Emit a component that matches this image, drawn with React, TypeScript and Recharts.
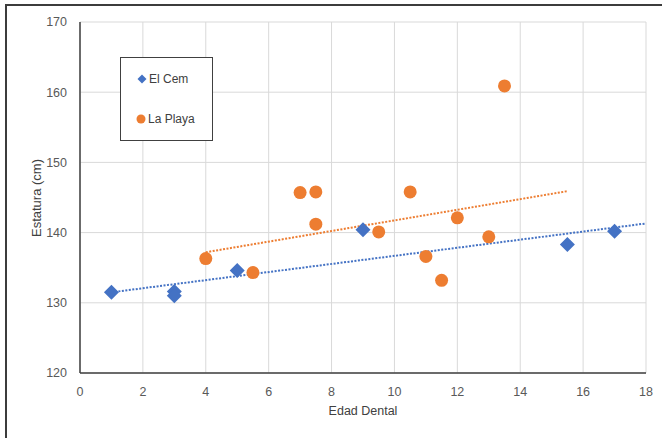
import { CartesianGrid, Scatter, ScatterChart, XAxis, YAxis } from "recharts";

const elCem = [
  { edad: 1, estatura: 131.5 },
  { edad: 3, estatura: 131.6 },
  { edad: 3, estatura: 131.0 },
  { edad: 5, estatura: 134.6 },
  { edad: 9, estatura: 140.4 },
  { edad: 15.5, estatura: 138.3 },
  { edad: 17, estatura: 140.2 },
];

const laPlaya = [
  { edad: 4, estatura: 136.3 },
  { edad: 5.5, estatura: 134.3 },
  { edad: 7, estatura: 145.7 },
  { edad: 7.5, estatura: 145.8 },
  { edad: 7.5, estatura: 141.2 },
  { edad: 9.5, estatura: 140.1 },
  { edad: 10.5, estatura: 145.8 },
  { edad: 11, estatura: 136.6 },
  { edad: 11.5, estatura: 133.2 },
  { edad: 12, estatura: 142.1 },
  { edad: 13, estatura: 139.4 },
  { edad: 13.5, estatura: 160.9 },
];

// trend line ends
const elCemTrend = [
  { edad: 1, estatura: 131.5 },
  { edad: 18, estatura: 141.3 },
];
const laPlayaTrend = [
  { edad: 4, estatura: 137.2 },
  { edad: 15.5, estatura: 145.9 },
];

const xTicks = [0, 2, 4, 6, 8, 10, 12, 14, 16, 18];
const yTicks = [120, 130, 140, 150, 160, 170];

const BLUE = "#4472C4";
const ORANGE = "#ED7D31";
const TEXT = "#595959";
const FONT = "'Liberation Sans', Arial, sans-serif";

const Diamond = (props: any) => {
  const { cx, cy } = props;
  const r = 7.5;
  return <polygon points={`${cx},${cy - r} ${cx + r},${cy} ${cx},${cy + r} ${cx - r},${cy}`} fill={BLUE} />;
};

const Dot = (props: any) => <circle cx={props.cx} cy={props.cy} r={6.5} fill={ORANGE} />;

const NoShape = () => null;

const LegendBox = () => (
  <div
    style={{
      position: "absolute",
      left: 120,
      top: 57,
      width: 91,
      height: 82,
      border: "1px solid #404040",
      background: "#fff",
      fontFamily: FONT,
      fontSize: 12,
      color: "#404040",
    }}
  >
    <div style={{ position: "absolute", left: 16, top: 14, display: "flex", alignItems: "center" }}>
      <svg width={10} height={10} style={{ marginRight: 2 }}>
        <polygon points="5,0.5 9.5,5 5,9.5 0.5,5" fill={BLUE} />
      </svg>
      El Cem
    </div>
    <div style={{ position: "absolute", left: 15, top: 54, display: "flex", alignItems: "center" }}>
      <svg width={10} height={10} style={{ marginRight: 2 }}>
        <circle cx={5} cy={5} r={4.5} fill={ORANGE} />
      </svg>
      La Playa
    </div>
  </div>
);

const YLabel = () => (
  <text
    x={36}
    y={198}
    transform="rotate(-90 36 198)"
    textAnchor="middle"
    dominantBaseline="central"
    fill="#404040"
    fontSize={13}
    fontFamily={FONT}
  >
    Estatura (cm)
  </text>
);

export default function App() {
  return (
    <div style={{ position: "absolute", left: 0, top: 0, width: 662, height: 438, overflow: "hidden", background: "#fff" }}>
      <div
        style={{
          position: "absolute",
          left: 5,
          top: 4,
          width: 700,
          height: 500,
          border: "2px solid #3c3c3c",
        }}
      />
      <div style={{ position: "absolute", left: 0, top: 0 }}>
        <ScatterChart width={662} height={438} margin={{ top: 22, right: 16, bottom: 35, left: 20 }}>
          <CartesianGrid stroke="#d9d9d9" strokeWidth={1} />
          <XAxis
            type="number"
            dataKey="edad"
            domain={[0, 18]}
            ticks={xTicks}
            height={30}
            tickLine={false}
            tickMargin={8}
            axisLine={{ stroke: "#404040", strokeWidth: 1.5 }}
            tick={{ fontSize: 12.5, fill: TEXT, fontFamily: FONT }}
            label={{ value: "Edad Dental", position: "bottom", offset: 3, fontSize: 12.5, fill: "#404040", fontFamily: FONT }}
          />
          <YAxis
            type="number"
            dataKey="estatura"
            domain={[120, 170]}
            ticks={yTicks}
            width={60}
            tickLine={false}
            tickMargin={7}
            axisLine={{ stroke: "#404040", strokeWidth: 1.5 }}
            tick={{ fontSize: 12.5, fill: TEXT, fontFamily: FONT }}
            label={{ content: YLabel }}
          />
          <Scatter
            name="El Cem trend"
            data={elCemTrend}
            line={{ stroke: BLUE, strokeWidth: 2, strokeDasharray: "2 1.5" }}
            shape={NoShape}
            legendType="none"
            isAnimationActive={false}
          />
          <Scatter
            name="La Playa trend"
            data={laPlayaTrend}
            line={{ stroke: ORANGE, strokeWidth: 2, strokeDasharray: "2 1.5" }}
            shape={NoShape}
            legendType="none"
            isAnimationActive={false}
          />
          <Scatter name="El Cem" data={elCem} shape={Diamond} isAnimationActive={false} />
          <Scatter name="La Playa" data={laPlaya} shape={Dot} isAnimationActive={false} />
        </ScatterChart>
      </div>
      <LegendBox />
    </div>
  );
}
